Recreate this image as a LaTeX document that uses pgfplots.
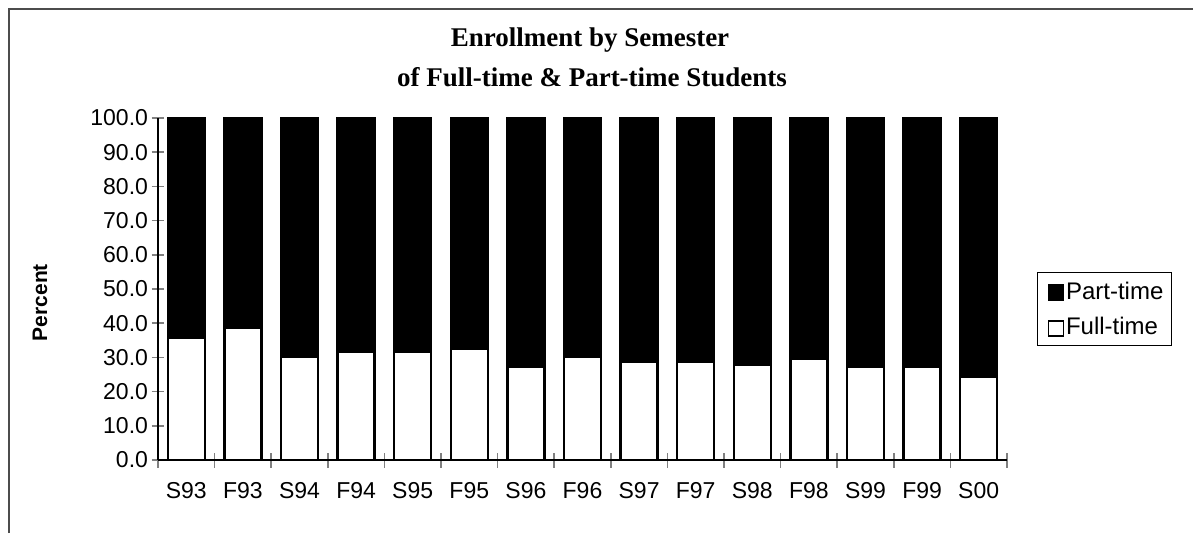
\documentclass[border=0pt]{standalone}
\usepackage{fontspec}
\setmainfont{Liberation Sans}
\newfontfamily\seriffont{Liberation Serif}
\usepackage{pgfplots}
\pgfplotsset{compat=1.18}
\begin{document}
\begin{tikzpicture}[x=1pt,y=1pt]
\useasboundingbox (0,0) rectangle (1193,533);
% outer chart frame (scanned, only top and left edges visible)
\draw[line width=1.3pt, black!70] (9,0) -- (9,524) -- (1193,524);
\node[font=\seriffont\bfseries\fontsize{27}{33}\selectfont, anchor=base] at (590,486) {Enrollment by Semester};
\node[font=\seriffont\bfseries\fontsize{27}{33}\selectfont, anchor=base] at (592,446) {of Full-time \& Part-time Students};
\begin{axis}[
    at={(158pt,73pt)}, anchor=south west,
    scale only axis, width=849pt, height=342pt,
    ybar stacked, bar width=37pt,
    xmin=-0.5, xmax=14.5, ymin=0, ymax=100,
    axis x line=bottom, axis y line=left,
    axis line style={-, line width=1.6pt},
    ytick={0,10,...,100},
    yticklabel style={/pgf/number format/.cd, fixed, fixed zerofill, precision=1, assume math mode=true},
    xtick={0,...,14},
    xticklabels={S93,F93,S94,F94,S95,F95,S96,F96,S97,F97,S98,F98,S99,F99,S00},
    minor xtick={-0.5,0.5,...,14.5},
    major x tick style={draw=none},
    minor x tick style={line width=1.5pt},
    y tick style={line width=1.5pt},
    tick align=center, major tick length=13pt, minor tick length=15pt,
    xticklabel style={yshift=-12pt},
    tick label style={font=\fontsize{23}{27}\selectfont},
    ylabel={\bfseries Percent},
    ylabel style={font=\fontsize{21}{25}\selectfont, at={(axis description cs:-0.139,0.46)}, anchor=center},
    legend style={at={(axis description cs:1.035,0.5497)}, anchor=north west,
      font=\fontsize{24}{28}\selectfont, draw=black, line width=1.3pt,
      row sep=13pt, inner xsep=6pt, inner ysep=7pt, cells={anchor=west}},
    reverse legend,
    legend image code/.code={\path[draw=none, fill=none] (0pt,0pt) -- (5pt,0pt);
      \draw[#1, line width=1.3pt] (5pt,-9pt) rectangle (20pt,6pt);},
]
\addplot[fill=white, draw=black, line width=2.4pt] coordinates {
  (0,35.7) (1,38.6) (2,30.1) (3,31.6) (4,31.6) (5,32.4) (6,27.2) (7,30.1)
  (8,28.7) (9,28.7) (10,27.8) (11,29.5) (12,27.2) (13,27.2) (14,24.3)
};
\addlegendentry{Full-time}
\addplot[fill=black, draw=black, line width=2.4pt] coordinates {
  (0,64.3) (1,61.4) (2,69.9) (3,68.4) (4,68.4) (5,67.6) (6,72.8) (7,69.9)
  (8,71.3) (9,71.3) (10,72.2) (11,70.5) (12,72.8) (13,72.8) (14,75.7)
};
\addlegendentry{Part-time}
\end{axis}
\end{tikzpicture}
\end{document}
